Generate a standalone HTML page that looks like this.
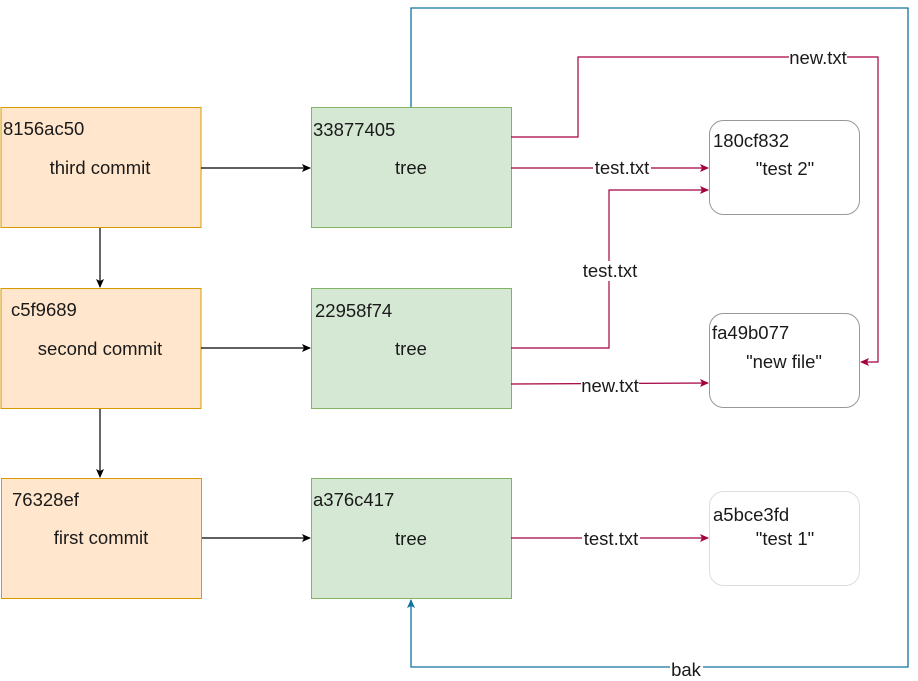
<!DOCTYPE html>
<html><head><style>
html,body{margin:0;padding:0;background:#fff;width:918px;height:681px;overflow:hidden}
svg{display:block}
text{font-family:"Liberation Sans",Arial,sans-serif;font-size:18.5px;fill:#1a1a1a}
</style></head><body>
<svg width="918" height="681" viewBox="0 0 918 681" xmlns="http://www.w3.org/2000/svg">
<defs>
<marker id="ak" markerWidth="10" markerHeight="10" refX="8" refY="5" orient="auto" markerUnits="userSpaceOnUse"><path d="M0,1 L9,5 L0,9 L2,5z" fill="#000"/></marker>
<marker id="am" markerWidth="10" markerHeight="10" refX="8" refY="5" orient="auto" markerUnits="userSpaceOnUse"><path d="M0,1 L9,5 L0,9 L2,5z" fill="#a50040"/></marker>
<marker id="ab" markerWidth="10" markerHeight="10" refX="8" refY="5" orient="auto" markerUnits="userSpaceOnUse"><path d="M0,1 L9,5 L0,9 L2,5z" fill="#10739e"/></marker>
</defs>
<polyline points="411,107 411,8 908,8 908,667 411,667 411,600" fill="none" stroke="#10739e" stroke-width="1.3" marker-end="url(#ab)"/>
<rect x="670" y="658" width="33" height="20" fill="#fff"/>
<text x="686" y="676" text-anchor="middle">bak</text>

<g fill="#ffe6cc" stroke="#d79b00">
<rect x="1" y="107.5" width="200" height="120"/>
<rect x="1" y="288.5" width="200" height="120"/>
<rect x="1.5" y="478.5" width="200" height="120"/>
</g>
<g fill="#d5e8d4" stroke="#82b366">
<rect x="311.5" y="107.5" width="200" height="120"/>
<rect x="311.5" y="288.5" width="200" height="120"/>
<rect x="311.5" y="478.5" width="200" height="120"/>
</g>
<rect x="709.5" y="120.5" width="150" height="94" rx="14" fill="#fff" stroke="#999"/>
<rect x="709.5" y="313.5" width="150" height="94" rx="14" fill="#fff" stroke="#999"/>
<rect x="709.5" y="491.5" width="150" height="94" rx="14" fill="#fff" stroke="#ddd"/>

<g stroke="#000" stroke-width="1.2" fill="none">
<line x1="201" y1="168" x2="310" y2="168" marker-end="url(#ak)"/>
<line x1="201" y1="348" x2="310" y2="348" marker-end="url(#ak)"/>
<line x1="202" y1="538" x2="310" y2="538" marker-end="url(#ak)"/>
<line x1="100" y1="228" x2="100" y2="287" marker-end="url(#ak)"/>
<line x1="100" y1="409" x2="100" y2="477" marker-end="url(#ak)"/>
</g>

<g stroke="#a50040" stroke-width="1.2" fill="none">
<polyline points="511,137 578,137 578,57 878,57 878,362 861,362" marker-end="url(#am)"/>
<line x1="511" y1="168" x2="708" y2="168" marker-end="url(#am)"/>
<polyline points="511,348 609,348 609,190 708,190" marker-end="url(#am)"/>
<line x1="511" y1="384" x2="708" y2="383" marker-end="url(#am)"/>
<line x1="511" y1="538" x2="708" y2="538" marker-end="url(#am)"/>
</g>
<g fill="#fff">
<rect x="789" y="47" width="58" height="20"/>
<rect x="593" y="158" width="58" height="20"/>
<rect x="581" y="261" width="58" height="20"/>
<rect x="581" y="375" width="58" height="20"/>
<rect x="582" y="529" width="58" height="20"/>
</g>
<text x="818" y="64" text-anchor="middle">new.txt</text>
<text x="622" y="174" text-anchor="middle">test.txt</text>
<text x="610" y="277" text-anchor="middle">test.txt</text>
<text x="610" y="392" text-anchor="middle">new.txt</text>
<text x="611" y="545" text-anchor="middle">test.txt</text>

<text x="3" y="135">8156ac50</text>
<text x="100" y="174" text-anchor="middle">third commit</text>
<text x="11" y="316">c5f9689</text>
<text x="100" y="355" text-anchor="middle">second commit</text>
<text x="12" y="506">76328ef</text>
<text x="101" y="544" text-anchor="middle">first commit</text>

<text x="313" y="136">33877405</text>
<text x="411" y="174" text-anchor="middle">tree</text>
<text x="315" y="317">22958f74</text>
<text x="411" y="355" text-anchor="middle">tree</text>
<text x="313" y="506">a376c417</text>
<text x="411" y="545" text-anchor="middle">tree</text>

<text x="713" y="147">180cf832</text>
<text x="785" y="175" text-anchor="middle">"test 2"</text>
<text x="712" y="339">fa49b077</text>
<text x="784" y="368" text-anchor="middle">"new file"</text>
<text x="713" y="521">a5bce3fd</text>
<text x="785" y="545" text-anchor="middle">"test 1"</text>
</svg>
</body></html>
